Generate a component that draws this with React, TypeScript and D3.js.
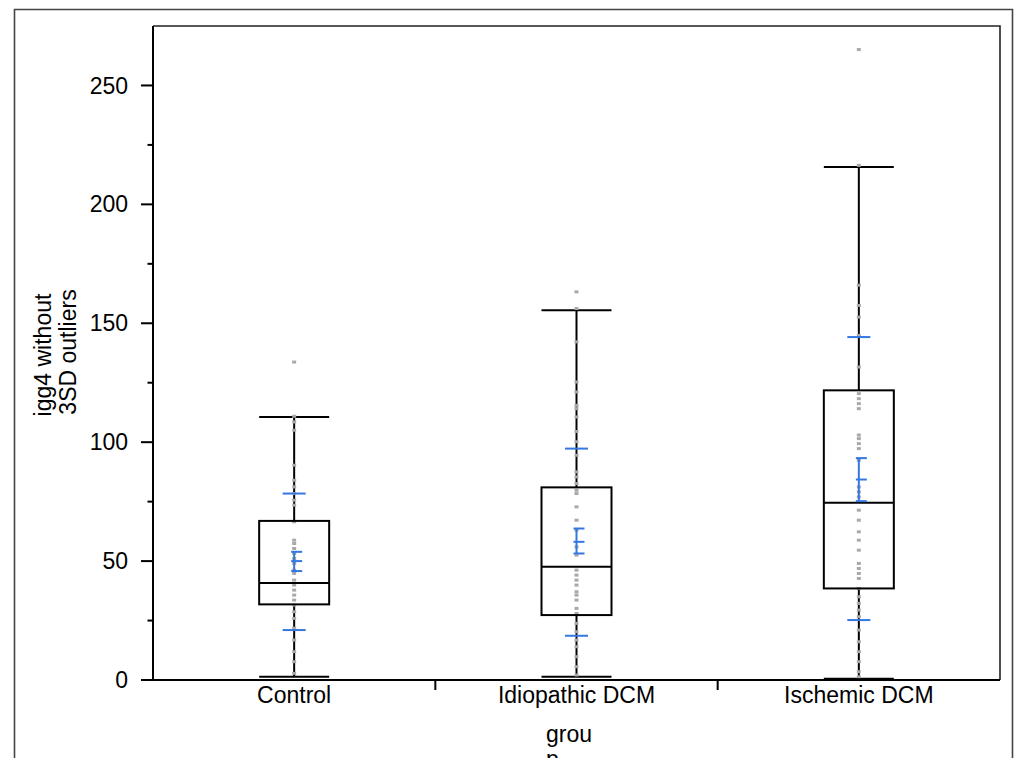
import React from "react";
import * as d3 from "d3";

const categories = ["Control", "Idiopathic DCM", "Ischemic DCM"];
const whiskerLow = [1.4, 1.4, 0.5];
const q1 = [31.8, 27.3, 38.5];
const median = [40.8, 47.6, 74.5];
const q3 = [66.9, 81.0, 121.8];
const whiskerHigh = [110.6, 155.5, 215.7];
const means = [50.0, 58.1, 84.3];
const ciLow = [45.8, 53.2, 75.2];
const ciHigh = [53.9, 63.7, 93.3];
const sdLow = [21.0, 18.6, 25.2];
const sdHigh = [78.4, 97.3, 144.2];

const controlPoints = [133.7, 110.9, 108.5, 105, 90.3, 84, 81.2, 78.4, 75.6, 73.5, 66.5, 58.8, 57.4, 55.3, 53.2, 51.1, 49, 46.2, 44.8, 42, 39.9, 37.8, 35.7, 33.6, 31.5, 28.7, 25.9, 21.8, 16.8, 11.9, 7.7, 2.8];
const idiopathicPoints = [163.2, 156.2, 142.2, 125.3, 121.1, 115.5, 114.1, 110.6, 104.5, 100.2, 94.5, 87.5, 85.4, 82.6, 79.8, 78.4, 72.8, 67.2, 63, 56, 52.5, 46.2, 44.1, 42, 39.9, 37.1, 35.7, 33.6, 30.1, 28, 23.8, 20.3, 16.8, 14, 9.8, 5.6, 2.1];
const ischemicPoints = [265.1, 216.4, 166, 157.5, 152.6, 144.9, 131.6, 120.4, 118.3, 116.2, 114.1, 103, 101.5, 99.4, 97.3, 92.4, 81.2, 79.1, 77, 71.4, 67.2, 62.3, 58.8, 54.6, 49, 46.9, 44.8, 42.7, 38.5, 35, 32.2, 29.4, 26.6, 21, 16.1, 11.9, 7.7, 3.5, 1.4];
const groupPoints = [controlPoints, idiopathicPoints, ischemicPoints];

const majorTicks = [0, 50, 100, 150, 200, 250];
const minorTicks = [25, 75, 125, 175, 225];

const FONT = "'Liberation Sans', Arial, sans-serif";
const BLUE = "#3477e0";
const GREY = "#a9a9a9";
const FS = 23;

export default function App() {
  const left = 153, right = 1000, top = 26, bottom = 680;
  const y = d3.scaleLinear().domain([0, 275]).range([bottom, top]);
  const x = d3.scaleBand<string>().domain(categories).range([left, right]).padding(0);
  const boxW = 70;
  const sdW = 23;
  const ciW = 11;

  return (
    <svg width={1016} height={758} style={{ position: "absolute", left: 0, top: 0, background: "#fff" }} fontFamily={FONT}>
      {/* outer frame */}
      <path d={`M14.5,758 L14.5,9.5 L1012.5,9.5 L1012.5,758`} fill="none" stroke="#444" strokeWidth={1.6} />
      {/* plot frame */}
      <path d={`M${left},${top} L${right},${top} L${right},${bottom}`} fill="none" stroke="#222" strokeWidth={1.6} />
      {/* y axis */}
      <line x1={left} x2={left} y1={top} y2={bottom} stroke="#000" strokeWidth={2} />
      {majorTicks.map((t) => (
        <g key={"M" + t}>
          <line x1={left - 12} x2={left} y1={y(t)} y2={y(t)} stroke="#000" strokeWidth={2} />
          <text x={128} y={y(t)} dy="0.35em" textAnchor="end" fontSize={FS}>{t}</text>
        </g>
      ))}
      {minorTicks.map((t) => (
        <line key={"m" + t} x1={left - 5.5} x2={left} y1={y(t)} y2={y(t)} stroke="#000" strokeWidth={2} />
      ))}
      {/* x axis */}
      <line x1={left - 12} x2={right} y1={bottom} y2={bottom} stroke="#000" strokeWidth={2} />
      {categories.slice(1).map((c) => (
        <line key={"xt" + c} x1={x(c)!} x2={x(c)!} y1={bottom} y2={bottom + 10} stroke="#000" strokeWidth={2} />
      ))}
      {categories.map((c) => (
        <text key={"xl" + c} x={x(c)! + x.bandwidth() / 2} y={703} textAnchor="middle" fontSize={FS}>{c}</text>
      ))}
      <text x={569} y={742} textAnchor="middle" fontSize={FS}>grou</text>
      <text x={546} y={767} textAnchor="start" fontSize={FS}>p</text>
      {/* y label */}
      <text transform={`translate(51,355) rotate(-90)`} textAnchor="middle" fontSize={FS}>igg4 without</text>
      <text transform={`translate(76,352) rotate(-90)`} textAnchor="middle" fontSize={FS}>3SD outliers</text>

      {categories.map((c, i) => {
        const cx = x(c)! + x.bandwidth() / 2;
        return (
          <g key={"box" + c}>
            <line x1={cx} x2={cx} y1={y(whiskerLow[i])} y2={y(q1[i])} stroke="#000" strokeWidth={2} />
            <line x1={cx} x2={cx} y1={y(q3[i])} y2={y(whiskerHigh[i])} stroke="#000" strokeWidth={2} />
            <line x1={cx - boxW / 2} x2={cx + boxW / 2} y1={y(whiskerLow[i])} y2={y(whiskerLow[i])} stroke="#000" strokeWidth={2} />
            <line x1={cx - boxW / 2} x2={cx + boxW / 2} y1={y(whiskerHigh[i])} y2={y(whiskerHigh[i])} stroke="#000" strokeWidth={2} />
            {groupPoints[i].map((v, j) => (
              <rect key={j} x={cx - 2} y={y(v) - 1.5} width={4} height={3} fill={GREY} />
            ))}
            <rect x={cx - boxW / 2} y={y(q3[i])} width={boxW} height={y(q1[i]) - y(q3[i])} fill="none" stroke="#000" strokeWidth={2} />
            <line x1={cx - boxW / 2} x2={cx + boxW / 2} y1={y(median[i])} y2={y(median[i])} stroke="#000" strokeWidth={2} />
            {/* blue mean / CI / SD */}
            <line x1={cx - sdW / 2} x2={cx + sdW / 2} y1={y(sdLow[i])} y2={y(sdLow[i])} stroke={BLUE} strokeWidth={2} />
            <line x1={cx - sdW / 2} x2={cx + sdW / 2} y1={y(sdHigh[i])} y2={y(sdHigh[i])} stroke={BLUE} strokeWidth={2} />
            <line x1={cx} x2={cx} y1={y(ciLow[i])} y2={y(ciHigh[i])} stroke={BLUE} strokeWidth={2} />
            {[ciLow[i], means[i], ciHigh[i]].map((v, k) => (
              <line key={k} x1={cx - 3} x2={cx - 3 + ciW} y1={y(v)} y2={y(v)} stroke={BLUE} strokeWidth={2} />
            ))}
          </g>
        );
      })}
    </svg>
  );
}
